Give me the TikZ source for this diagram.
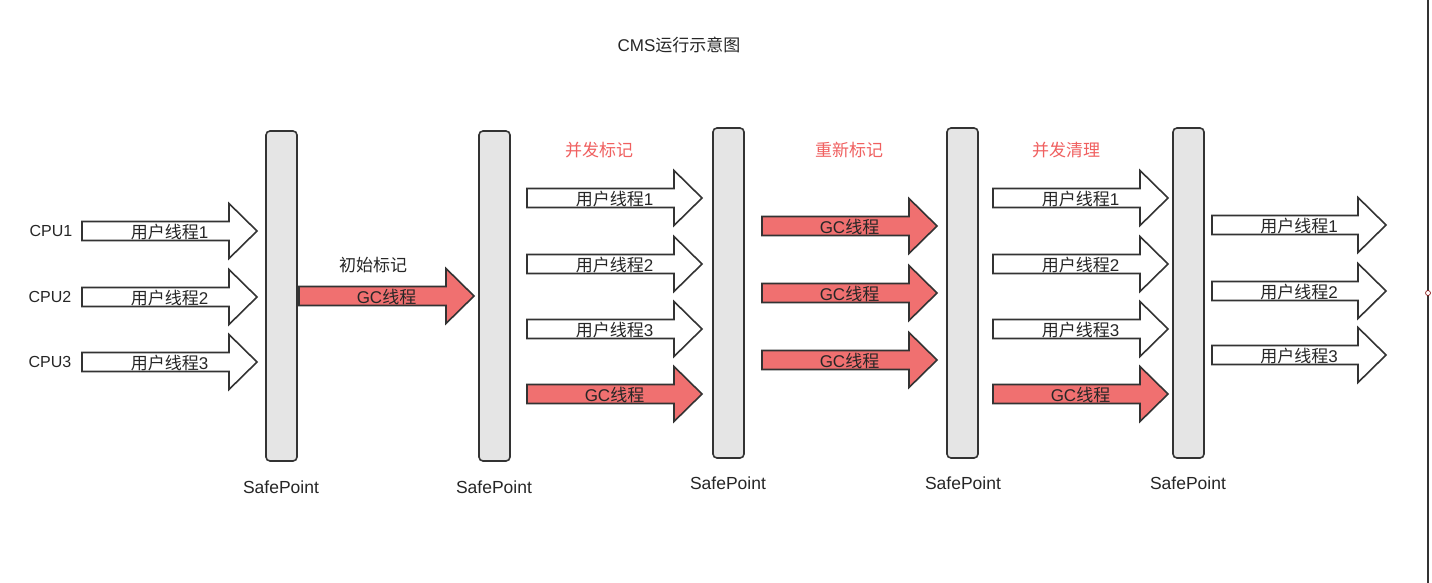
\documentclass[tikz,border=0pt]{standalone}
\usepackage{fontspec}
\setmainfont{Liberation Sans}
\newfontfamily\cjk{Noto Sans CJK SC}
\begin{document}
\begin{tikzpicture}[x=1pt,y=-1pt,
  bar/.style={draw=black!80,line width=1.6pt,fill=black!10,rounded corners=4pt},
  userarrow/.style={draw=black!80,line width=1.6pt,fill=white,line join=miter},
  gcarrow/.style={draw=black!80,line width=1.6pt,fill=gcred,line join=miter},
  lbl/.style={font=\fontsize{17}{20}\selectfont,text=black!85,inner sep=0pt},
  cpu/.style={font=\fontsize{16}{19}\selectfont,text=black!85,inner sep=0pt},
  phase/.style={font=\fontsize{17}{20}\selectfont,text=phasered,inner sep=0pt},
  sp/.style={font=\fontsize{17.5}{20}\selectfont,text=black!85,inner sep=0pt}]
\definecolor{gcred}{RGB}{240,112,112}
\definecolor{phasered}{RGB}{240,96,96}
\useasboundingbox (0,0) rectangle (1432,583);
\fill[white] (0,0) rectangle (1432,583);
% arrow macro: #1 tail x, #2 tip x, #3 center y, #4 style, #5 text, #6 name
\newcommand\blkarrow[6]{%
  \draw[#4] ({#1},{#3-9.5}) -- ({#2-28},{#3-9.5}) -- ({#2-28},{#3-27.5}) -- ({#2},{#3})
    -- ({#2-28},{#3+27.5}) -- ({#2-28},{#3+9.5}) -- ({#1},{#3+9.5}) -- cycle;
  \node[lbl] (#6) at ({(#1+#2)/2},{#3+1}) {#5};}
\newcommand\ut[1]{{\cjk 用户线程}#1}
\newcommand\gct{GC{\cjk 线程}}
% title
\node[lbl] (title) at (679,45) {CMS{\cjk 运行示意图}};
% bars
\draw[bar] (266,131) rectangle (297,461);
\draw[bar] (479,131) rectangle (510,461);
\draw[bar] (713,128) rectangle (744,458);
\draw[bar] (947,128) rectangle (978,458);
\draw[bar] (1173,128) rectangle (1204,458);
\node[sp] (sp1) at (281,487) {SafePoint};
\node[sp] (sp2) at (494,487) {SafePoint};
\node[sp] (sp3) at (728,483) {SafePoint};
\node[sp] (sp4) at (963,483) {SafePoint};
\node[sp] (sp5) at (1188,483) {SafePoint};
% column 0
\node[cpu] (cpu1) at (51,231) {CPU1};
\node[cpu] (cpu2) at (50,297) {CPU2};
\node[cpu] (cpu3) at (50,362) {CPU3};
\blkarrow{82}{257}{231}{userarrow}{\ut{1}}{a01}
\blkarrow{82}{257}{297}{userarrow}{\ut{2}}{a02}
\blkarrow{82}{257}{362}{userarrow}{\ut{3}}{a03}
% column 1
\node[lbl] (init) at (373,265) {\cjk 初始标记};
\blkarrow{299}{474}{296}{gcarrow}{\gct}{a11}
% column 2
\node[phase] (conc) at (599,150) {\cjk 并发标记};
\blkarrow{527}{702}{198}{userarrow}{\ut{1}}{a21}
\blkarrow{527}{702}{264}{userarrow}{\ut{2}}{a22}
\blkarrow{527}{702}{329}{userarrow}{\ut{3}}{a23}
\blkarrow{527}{702}{394}{gcarrow}{\gct}{a24}
% column 3
\node[phase] (remark) at (849,150) {\cjk 重新标记};
\blkarrow{762}{937}{226}{gcarrow}{\gct}{a31}
\blkarrow{762}{937}{293}{gcarrow}{\gct}{a32}
\blkarrow{762}{937}{360}{gcarrow}{\gct}{a33}
% column 4
\node[phase] (sweep) at (1066,150) {\cjk 并发清理};
\blkarrow{993}{1168}{198}{userarrow}{\ut{1}}{a41}
\blkarrow{993}{1168}{264}{userarrow}{\ut{2}}{a42}
\blkarrow{993}{1168}{329}{userarrow}{\ut{3}}{a43}
\blkarrow{993}{1168}{394}{gcarrow}{\gct}{a44}
% column 5
\blkarrow{1212}{1386}{225}{userarrow}{\ut{1}}{a51}
\blkarrow{1212}{1386}{291}{userarrow}{\ut{2}}{a52}
\blkarrow{1212}{1386}{355}{userarrow}{\ut{3}}{a53}
% right edge
\draw[black!80,line width=1.6pt] (1428,0) -- (1428,583);
\draw[red!50!black,fill=white,line width=0.6pt] (1428,293) circle (2.5);
\end{tikzpicture}
\end{document}
